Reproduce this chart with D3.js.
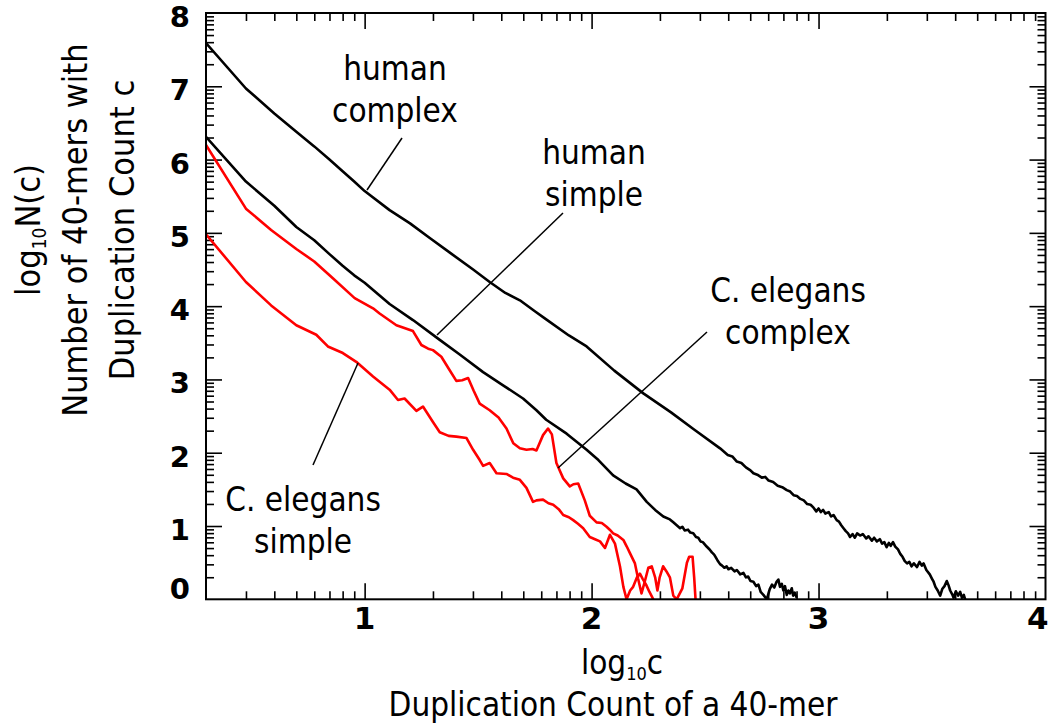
<!DOCTYPE html>
<html>
<head>
<meta charset="utf-8">
<script src="https://cdn.jsdelivr.net/npm/d3@7"></script>
<style>
  body { margin: 0; background: #fff; }
  svg text { font-family: "DejaVu Sans Condensed", "DejaVu Sans", sans-serif; font-stretch: condensed; fill: #000; }
  svg text.tick { font-family: "DejaVu Sans", sans-serif; font-stretch: normal; font-weight: bold; }
</style>
</head>
<body>
<svg id="chart" width="1050" height="725"></svg>
<script>
// log10 of duplication count c, and log10 N(c)
var hcX = [0.301, 0.477, 0.602, 0.699, 0.778, 0.845, 0.903, 0.954, 1.00, 1.11, 1.20, 1.287, 1.38, 1.478, 1.551, 1.62, 1.684, 1.75, 1.80, 1.90, 1.978, 2.10, 2.228, 2.35, 2.45, 2.566, 2.60, 2.62, 2.64, 2.66, 2.68, 2.70, 2.713, 2.73, 2.75, 2.765, 2.78, 2.80, 2.82, 2.84, 2.86, 2.875, 2.89, 2.905, 2.92, 2.935, 2.95, 2.965,
  2.978, 2.99, 3.00, 3.01, 3.02, 3.03, 3.045, 3.055, 3.066, 3.08, 3.09, 3.10, 3.11, 3.12, 3.13, 3.139, 3.15, 3.16, 3.17, 3.183, 3.195, 3.21, 3.22, 3.235, 3.245, 3.257, 3.27, 3.28, 3.29, 3.30, 3.31, 3.318, 3.328, 3.338, 3.35, 3.36, 3.37, 3.38, 3.39, 3.40, 3.41, 3.42, 3.434, 3.445, 3.455, 3.463, 3.475, 3.49, 3.50, 3.507, 3.515, 3.525, 3.536, 3.545, 3.555, 3.565, 3.573, 3.58, 3.59, 3.595, 3.605, 3.615, 3.624, 3.632, 3.64, 3.646];
var hcY = [7.59, 6.97, 6.63, 6.38, 6.18, 6.00, 5.84, 5.70, 5.57, 5.31, 5.13, 4.93, 4.72, 4.50, 4.33, 4.18, 4.08, 3.93, 3.82, 3.60, 3.45, 3.12, 2.81, 2.55, 2.32, 2.06, 1.97, 1.95, 1.88, 1.86, 1.80, 1.76, 1.72, 1.70, 1.66, 1.67, 1.62, 1.60, 1.55, 1.53, 1.49, 1.47, 1.42, 1.41, 1.37, 1.35, 1.30, 1.29,
  1.25, 1.20, 1.24, 1.19, 1.22, 1.17, 1.19, 1.13, 1.15, 1.08, 1.06, 1.01, 0.97, 0.93, 0.90, 0.85, 0.89, 0.84, 0.90, 0.87, 0.89, 0.83, 0.86, 0.80, 0.84, 0.79, 0.82, 0.76, 0.78, 0.71, 0.77, 0.73, 0.78, 0.72, 0.68, 0.62, 0.58, 0.52, 0.49, 0.51, 0.45, 0.49, 0.44, 0.51, 0.46, 0.49, 0.40, 0.34, 0.28, 0.24, 0.17, 0.12, 0.05, 0.14, 0.18, 0.25, 0.19, 0.12, 0.06, 0.02, 0.11, 0.05, 0.10, 0.02, 0.06, 0.0];

var hsX = [0.301, 0.477, 0.602, 0.699, 0.778, 0.845, 0.903, 0.954, 1.00, 1.11, 1.213, 1.331, 1.419, 1.522, 1.61, 1.698, 1.757, 1.80, 1.89, 1.978, 2.03, 2.095, 2.15, 2.198, 2.243, 2.28, 2.316, 2.345, 2.36,
  2.375, 2.39, 2.40, 2.41, 2.425, 2.435, 2.448, 2.46, 2.47, 2.48, 2.49, 2.507, 2.52, 2.53, 2.54, 2.555, 2.566, 2.575, 2.585, 2.595, 2.603, 2.615, 2.63, 2.64, 2.655, 2.669, 2.68, 2.69, 2.70, 2.713, 2.725, 2.735, 2.745, 2.757, 2.772, 2.785, 2.795, 2.805, 2.815, 2.823, 2.83, 2.838, 2.845, 2.852, 2.86, 2.867, 2.874, 2.882, 2.888, 2.895, 2.904];
var hsY = [6.31, 5.70, 5.37, 5.08, 4.90, 4.71, 4.55, 4.42, 4.32, 4.03, 3.81, 3.54, 3.34, 3.10, 2.92, 2.74, 2.58, 2.45, 2.26, 2.04, 1.90, 1.69, 1.58, 1.50, 1.33, 1.22, 1.13, 1.09, 1.05,
  1.01, 0.97, 0.99, 0.94, 0.95, 0.91, 0.90, 0.85, 0.84, 0.79, 0.78, 0.72, 0.68, 0.64, 0.61, 0.53, 0.48, 0.46, 0.43, 0.45, 0.41, 0.43, 0.38, 0.40, 0.34, 0.36, 0.30, 0.31, 0.25, 0.24, 0.18, 0.20, 0.10, 0.06, 0.0, 0.14, 0.20, 0.16, 0.24, 0.27, 0.17, 0.21, 0.12, 0.18, 0.06, 0.12, 0.08, 0.15, 0.05, 0.09, 0.02];

var ceCX = [0.301, 0.477, 0.588, 0.699, 0.778, 0.86, 0.956, 1.037, 1.066, 1.14, 1.213, 1.25, 1.28, 1.301, 1.338, 1.37, 1.404, 1.43, 1.456, 1.48, 1.507, 1.551, 1.59, 1.625, 1.655, 1.684, 1.713, 1.74, 1.757, 1.786, 1.808, 1.825, 1.845, 1.875, 1.904, 1.92, 1.941, 1.97, 1.992, 2.022, 2.045, 2.066, 2.08, 2.095, 2.115, 2.14, 2.155, 2.169, 2.191, 2.205, 2.22, 2.235, 2.25, 2.265, 2.28, 2.29, 2.30, 2.315, 2.33, 2.345, 2.36, 2.375, 2.40, 2.42, 2.43, 2.445, 2.452, 2.458];
var ceCY = [6.20, 5.33, 5.04, 4.78, 4.61, 4.38, 4.11, 3.97, 3.90, 3.74, 3.66, 3.47, 3.42, 3.40, 3.31, 3.15, 2.98, 2.99, 3.02, 2.85, 2.67, 2.58, 2.48, 2.33, 2.13, 2.06, 2.04, 2.05, 2.03, 2.24, 2.33, 2.25, 1.86, 1.65, 1.54, 1.57, 1.58, 1.35, 1.14, 1.05, 1.04, 0.99, 0.95, 0.90, 0.87, 0.81, 0.72, 0.63, 0.49, 0.28, 0.08, 0.25, 0.43, 0.45, 0.30, 0.12, 0.30, 0.45, 0.38, 0.30, 0.05, 0.0, 0.15, 0.50, 0.58, 0.58, 0.30, 0.0];

var ceSX = [0.301, 0.477, 0.588, 0.699, 0.787, 0.838, 0.904, 0.963, 1.037, 1.11, 1.147, 1.176, 1.228, 1.257, 1.301, 1.331, 1.37, 1.404, 1.449, 1.478, 1.507, 1.522, 1.551, 1.581, 1.625, 1.654, 1.684, 1.713, 1.742, 1.757, 1.786, 1.81, 1.831, 1.855, 1.875, 1.90, 1.919, 1.94, 1.963, 1.992, 2.015, 2.037, 2.059, 2.081, 2.103, 2.125, 2.14, 2.154, 2.17, 2.183, 2.20, 2.213, 2.225, 2.24, 2.255, 2.272];
var ceSY = [4.98, 4.33, 4.01, 3.74, 3.61, 3.45, 3.36, 3.24, 3.04, 2.86, 2.72, 2.74, 2.57, 2.63, 2.42, 2.28, 2.23, 2.22, 2.20, 2.04, 1.90, 1.82, 1.86, 1.72, 1.71, 1.66, 1.63, 1.52, 1.33, 1.35, 1.36, 1.31, 1.29, 1.23, 1.15, 1.12, 1.08, 1.03, 0.97, 0.85, 0.82, 0.79, 0.70, 0.88, 0.76, 0.45, 0.17, 0.0, 0.12, 0.17, 0.30, 0.35, 0.28, 0.20, 0.10, 0.0];

var xTicks = [1, 2, 3, 4];
var yTicks = [0, 1, 2, 3, 4, 5, 6, 7, 8];

(function() {
  'use strict';

  var series = [
    {xs: hcX, ys: hcY, color: '#000'},
    {xs: hsX, ys: hsY, color: '#000'},
    {xs: ceCX, ys: ceCY, color: '#ff0000'},
    {xs: ceSX, ys: ceSY, color: '#ff0000'}
  ];

  var labels = [
    {lines: ['human', 'complex'], x: 395, y: 80, from: [402, 138], to: [367, 190]},
    {lines: ['human', 'simple'], x: 594, y: 164, from: [563, 213], to: [437, 335]},
    {lines: ['C. elegans', 'complex'], x: 788, y: 302, from: [707, 332], to: [558, 468]},
    {lines: ['C. elegans', 'simple'], x: 303, y: 511, from: [313, 465], to: [358, 363]}
  ];

  var svg = d3.select('#chart');
  var pLeft = 206, pRight = 1045.5, pTop = 13, pBottom = 599.3;

  var x = d3.scaleLinear().domain([Math.log10(2), 4]).range([pLeft, pRight]);
  var y = d3.scaleLinear().domain([0, 8]).range([pBottom, pTop]);

  // minor ticks sit at log positions inside each unit
  var xMinor = [], yMinor = [];
  for (var n = 0; n < 4; n++) {
    for (var k = 2; k < 10; k++) {
      var v = n + Math.log10(k);
      if (v > x.domain()[0] + 0.01) xMinor.push(v);
    }
  }
  for (var n2 = 0; n2 < 8; n2++) {
    for (var k2 = 2; k2 < 10; k2++) yMinor.push(n2 + Math.log10(k2));
  }

  svg.append('defs').append('clipPath').attr('id', 'plot')
    .append('rect')
    .attr('x', pLeft).attr('y', pTop - 2)
    .attr('width', pRight - pLeft).attr('height', pBottom - pTop + 2);

  function tickAxis(axis, tx, ty) {
    var g = svg.append('g')
      .attr('transform', 'translate(' + tx + ',' + ty + ')')
      .call(axis);
    g.select('.domain').remove();
    g.selectAll('line').attr('stroke', '#000').attr('stroke-width', 1.6);
    return g;
  }

  var xMajor = xTicks.filter(function(d) { return d < 4; });
  var yMajor = yTicks.filter(function(d) { return d > 0 && d < 8; });

  tickAxis(d3.axisBottom(x).tickValues(xMajor).tickSize(-16).tickFormat(''), 0, pBottom);
  tickAxis(d3.axisBottom(x).tickValues(xMinor).tickSize(-8).tickFormat(''), 0, pBottom);
  tickAxis(d3.axisTop(x).tickValues(xMajor).tickSize(-16).tickFormat(''), 0, pTop);
  tickAxis(d3.axisTop(x).tickValues(xMinor).tickSize(-8).tickFormat(''), 0, pTop);
  tickAxis(d3.axisLeft(y).tickValues(yMajor).tickSize(-16).tickFormat(''), pLeft, 0);
  tickAxis(d3.axisLeft(y).tickValues(yMinor).tickSize(-8).tickFormat(''), pLeft, 0);
  tickAxis(d3.axisRight(y).tickValues(yMajor).tickSize(-16).tickFormat(''), pRight, 0);
  tickAxis(d3.axisRight(y).tickValues(yMinor).tickSize(-8).tickFormat(''), pRight, 0);

  // tick labels
  svg.append('g').selectAll('text')
    .data(xTicks)
    .enter()
    .append('text')
    .attr('class', 'tick')
    .attr('x', function(d) { return d === 4 ? pRight + 3 : x(d); })
    .attr('y', pBottom + 30)
    .attr('text-anchor', function(d) { return d === 4 ? 'end' : 'middle'; })
    .style('font-size', '31px')
    .text(function(d) { return d; });

  svg.append('g').selectAll('text')
    .data(yTicks)
    .enter()
    .append('text')
    .attr('class', 'tick')
    .attr('x', pLeft - 16)
    .attr('y', function(d) { return d === 0 ? pBottom : y(d) + 14; })
    .attr('text-anchor', 'end')
    .style('font-size', '29px')
    .text(function(d) { return d; });

  // curves
  var line = d3.line()
    .x(function(d) { return x(d[0]); })
    .y(function(d) { return y(d[1]); });

  svg.append('g').attr('clip-path', 'url(#plot)')
    .selectAll('path')
    .data(series)
    .enter()
    .append('path')
    .attr('d', function(s) { return line(d3.zip(s.xs, s.ys)); })
    .attr('fill', 'none')
    .attr('stroke', function(s) { return s.color; })
    .attr('stroke-width', 2.6)
    .attr('stroke-linejoin', 'round');

  // frame
  svg.append('rect')
    .attr('x', pLeft).attr('y', pTop)
    .attr('width', pRight - pLeft).attr('height', pBottom - pTop)
    .attr('fill', 'none').attr('stroke', '#000').attr('stroke-width', 2);

  // annotations with leader lines
  labels.forEach(function(l) {
    svg.append('line')
      .attr('x1', l.from[0]).attr('y1', l.from[1])
      .attr('x2', l.to[0]).attr('y2', l.to[1])
      .attr('stroke', '#000').attr('stroke-width', 1.5);
    var t = svg.append('text')
      .attr('text-anchor', 'middle')
      .style('font-size', '33px');
    l.lines.forEach(function(s, i) {
      t.append('tspan').attr('x', l.x).attr('y', l.y + i * 41.5).text(s);
    });
  });

  // axis titles
  var xt = svg.append('text').attr('text-anchor', 'middle').style('font-size', '33px');
  var t1 = xt.append('tspan').attr('x', 622).attr('y', 674);
  t1.append('tspan').text('log');
  t1.append('tspan').attr('dy', 6).style('font-size', '18px').text('10');
  t1.append('tspan').attr('dy', -6).text('c');
  xt.append('tspan').attr('x', 613).attr('y', 716).text('Duplication Count of a 40-mer');

  var yt = svg.append('text')
    .attr('transform', 'translate(0,230) rotate(-90)')
    .attr('text-anchor', 'middle')
    .style('font-size', '34px');
  var l1 = yt.append('tspan').attr('x', 0).attr('y', 40);
  l1.append('tspan').text('log');
  l1.append('tspan').attr('dy', 6).style('font-size', '19px').text('10');
  l1.append('tspan').attr('dy', -6).text('N(c)');
  yt.append('tspan').attr('x', 0).attr('y', 87).text('Number of 40-mers with');
  yt.append('tspan').attr('x', 0).attr('y', 134).text('Duplication Count c');
})();
</script>
</body>
</html>
